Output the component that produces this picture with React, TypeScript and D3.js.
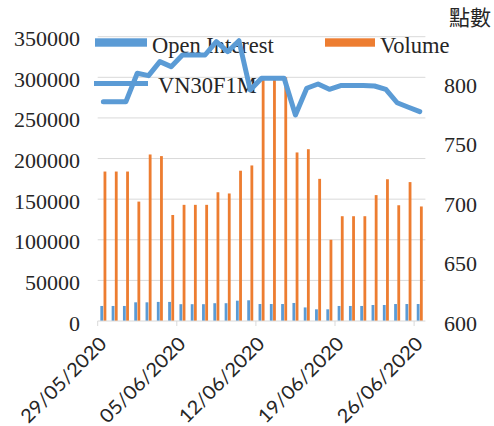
import * as d3 from 'd3';
import React from 'react';

// categories: every calendar day, weekends carry Friday's values
const dates = [
  '29/05/2020', '30/05/2020', '31/05/2020', '01/06/2020', '02/06/2020', '03/06/2020', '04/06/2020',
  '05/06/2020', '06/06/2020', '07/06/2020', '08/06/2020', '09/06/2020', '10/06/2020', '11/06/2020',
  '12/06/2020', '13/06/2020', '14/06/2020', '15/06/2020', '16/06/2020', '17/06/2020', '18/06/2020',
  '19/06/2020', '20/06/2020', '21/06/2020', '22/06/2020', '23/06/2020', '24/06/2020', '25/06/2020',
  '26/06/2020',
];

const openInterest = [
  18500, 18500, 18500, 23000, 23000, 23500, 23500,
  20700, 20700, 20700, 21900, 21900, 25000, 25500,
  20900, 20900, 20900, 22200, 16700, 14400, 14400,
  18500, 18500, 18500, 19700, 19700, 20900, 20900,
  20900,
];

const volume = [
  184000, 184000, 184000, 147000, 205000, 203000, 130500,
  143000, 143000, 143000, 158500, 157000, 185000, 191500,
  300000, 300000, 300000, 207500, 211500, 175000, 100000,
  129000, 129000, 129000, 155000, 174500, 142500, 171000,
  141000,
];

const vn30 = [
  784.7, 784.7, 784.7, 808.6, 806.6, 818.4, 814.2,
  824, 824, 824, 835.2, 826.8, 836, 794.5,
  804.4, 804.4, 804.4, 773.5, 796, 799.6, 795.1,
  798.3, 798.3, 798.3, 797.9, 795.1, 783.8, 780,
  776.3,
];

const xTickLabels = ['29/05/2020', '05/06/2020', '12/06/2020', '19/06/2020', '26/06/2020'];
const leftTicks = [0, 50000, 100000, 150000, 200000, 250000, 300000, 350000];
const rightTicks = [600, 650, 700, 750, 800];

const BLUE = '#5B9BD5';
const ORANGE = '#ED7D31';
const GRID = '#d9d9d9';
const TEXT = '#262626';
const SERIF = '"Liberation Serif", "Times New Roman", serif';

export default function App() {
  const x = d3.scaleBand().domain(dates).range([97.7, 425.4]).padding(0);
  const x1 = d3.scaleBand().domain(['oi', 'vol']).range([0, x.bandwidth()])
    .paddingInner(0.12).paddingOuter(0.83);
  const yL = d3.scaleLinear().domain([0, 350000]).range([321, 36.7]);
  const yR = d3.scaleLinear().domain([600, 840]).range([321, 36]);
  const bw = x.bandwidth();
  const [x0, xEnd] = x.range();

  const line = d3.line<number>()
    .x((d, i) => (x(dates[i]) as number) + bw / 2)
    .y(d => yR(d));

  return (
    <svg width={494} height={426} style={{ position: 'absolute', left: 0, top: 0, background: '#fff' }}>
      {/* gridlines */}
      {leftTicks.slice(1).map(t => (
        <line key={t} x1={x0} x2={xEnd} y1={yL(t)} y2={yL(t)} stroke={GRID} strokeWidth={1} />
      ))}

      {/* left axis labels */}
      {leftTicks.map(t => (
        <text key={t} x={80} y={yL(t) + 9.5} textAnchor="end" fontFamily={SERIF} fontSize={22} fill={TEXT}>
          {t}
        </text>
      ))}

      {/* right axis labels */}
      {rightTicks.map(t => (
        <text key={t} x={444} y={yR(t) + 9.5} fontFamily={SERIF} fontSize={22} fill={TEXT}>
          {t}
        </text>
      ))}

      <text x={491} y={25} textAnchor="end" fontFamily='"Noto Sans CJK TC", sans-serif' fontSize={21} fill={TEXT}>
        點數
      </text>

      {/* legend */}
      <rect x={95} y={38.3} width={52} height={8.4} fill={BLUE} />
      <text x={152} y={52.5} fontFamily={SERIF} fontSize={22.5} fill={TEXT}>Open Interest</text>
      <rect x={325} y={38.3} width={50} height={8.4} fill={ORANGE} />
      <text x={380} y={52.5} fontFamily={SERIF} fontSize={22.5} fill={TEXT}>Volume</text>
      <line x1={94} x2={148} y1={83.5} y2={83.5} stroke={BLUE} strokeWidth={5} />
      <text x={158} y={93} fontFamily={SERIF} fontSize={22.5} fill={TEXT}>VN30F1M</text>

      {/* bars */}
      {dates.map((d, i) => (
        <g key={d} transform={`translate(${x(d)},0)`}>
          <rect x={x1('oi')} y={yL(openInterest[i])} width={x1.bandwidth()}
            height={yL(0) - yL(openInterest[i])} fill={BLUE} />
          <rect x={x1('vol')} y={yL(volume[i])} width={x1.bandwidth()}
            height={yL(0) - yL(volume[i])} fill={ORANGE} />
        </g>
      ))}

      {/* x axis */}
      <line x1={x0} x2={xEnd} y1={321} y2={321} stroke={GRID} strokeWidth={1} />
      {xTickLabels.map(lbl => {
        const tx = x(lbl) as number;
        return (
          <g key={lbl}>
            <line x1={tx} x2={tx} y1={321} y2={326} stroke={GRID} strokeWidth={1} />
            <text transform={`translate(${tx + 10},345) rotate(-45)`} textAnchor="end"
              fontFamily="Lato, sans-serif" fontSize={19} fill={TEXT}
              textLength={112} lengthAdjust="spacingAndGlyphs">
              {lbl}
            </text>
          </g>
        );
      })}

      {/* VN30F1M line */}
      <path d={line(vn30) as string} fill="none" stroke={BLUE} strokeWidth={5}
        strokeLinejoin="round" strokeLinecap="round" />
    </svg>
  );
}
